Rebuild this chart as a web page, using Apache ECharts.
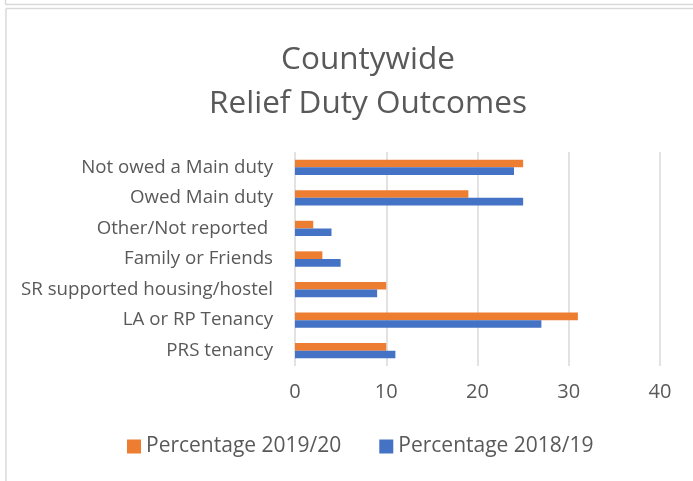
<!DOCTYPE html>
<html>
<head>
<meta charset="utf-8">
<script src="https://cdn.jsdelivr.net/npm/echarts@6/dist/echarts.min.js"></script>
<style>
  html, body { margin: 0; padding: 0; background: #fff; }
  #main { width: 693px; height: 481px; }
</style>
</head>
<body>
<div id="main"></div>
<script>
// categories, top to bottom
var categories = ['Not owed a Main duty', 'Owed Main duty', 'Other/Not reported ', 'Family or Friends',
    'SR supported housing/hostel', 'LA or RP Tenancy', 'PRS tenancy'];
var seriesNames = ['Percentage 2019/20', 'Percentage 2018/19'];
var pct2019 = [25, 19, 2, 3, 10, 31, 10];
var pct2018 = [24, 25, 4, 5, 9, 27, 11];
var xTicks = [0, 10, 20, 30, 40];

var chart = echarts.init(document.getElementById('main'));
var font = '"Open Sans", sans-serif';
var option = {
    animation: false,
    textStyle: { fontFamily: font },
    title: {
        text: 'Countywide\nRelief Duty Outcomes',
        left: 363,
        textAlign: 'center',
        top: 33,
        textStyle: { fontSize: 31.5, fontWeight: 'normal', color: '#595959', lineHeight: 44, fontFamily: font }
    },
    graphic: [
        { type: 'line', shape: { x1: 5, y1: 4.5, x2: 693, y2: 4.5 }, style: { stroke: '#d9d9d9', lineWidth: 1.5 } },
        { type: 'line', shape: { x1: 5.5, y1: 0, x2: 5.5, y2: 4.5 }, style: { stroke: '#d9d9d9', lineWidth: 1.5 } },
        { type: 'line', shape: { x1: 6, y1: 8.5, x2: 693, y2: 8.5 }, style: { stroke: '#d9d9d9', lineWidth: 1.5 } },
        { type: 'line', shape: { x1: 6, y1: 8.5, x2: 6, y2: 481 }, style: { stroke: '#d9d9d9', lineWidth: 1.5 } }
    ],
    legend: {
        data: seriesNames,
        top: 431,
        left: 122,
        itemWidth: 14,
        itemHeight: 14,
        itemGap: 38,
        icon: 'rect',
        textStyle: { fontSize: 21, color: '#595959', fontFamily: font }
    },
    grid: { left: 295, right: 33, top: 152, bottom: 115 },
    xAxis: {
        type: 'value',
        min: 0,
        max: xTicks[xTicks.length - 1],
        interval: 10,
        axisLine: { show: false },
        axisTick: { show: false },
        splitLine: { lineStyle: { color: '#d9d9d9', width: 1.5 } },
        axisLabel: { fontSize: 20, color: '#595959', margin: 16, fontFamily: font }
    },
    yAxis: {
        type: 'category',
        data: categories,
        inverse: true,
        axisLine: { show: false },
        axisTick: { show: false },
        axisLabel: { fontSize: 18.7, color: '#595959', margin: 22, fontFamily: font }
    },
    series: [
        {
            name: seriesNames[0], type: 'bar', data: pct2019,
            itemStyle: { color: '#ED7D31' },
            barGap: '0%', barCategoryGap: '50%'
        },
        {
            name: seriesNames[1], type: 'bar', data: pct2018,
            itemStyle: { color: '#4472C4' },
            barGap: '0%', barCategoryGap: '50%'
        }
    ]
};
chart.setOption(option);
</script>
</body>
</html>
